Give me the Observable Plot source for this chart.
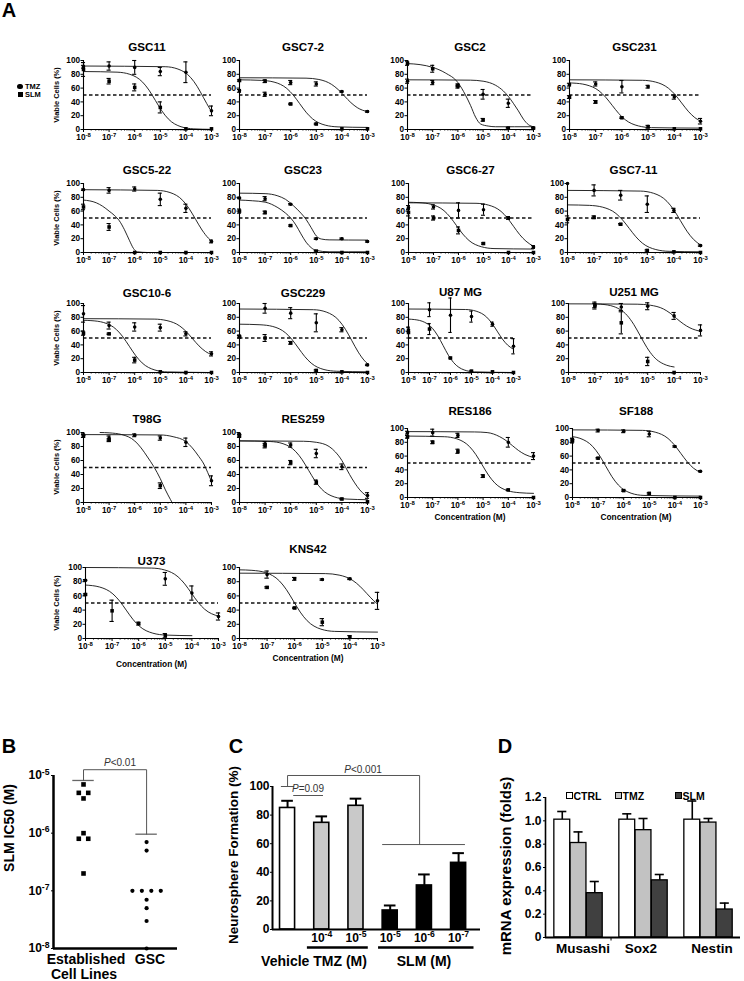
<!DOCTYPE html>
<html><head><meta charset="utf-8">
<script src="https://cdn.jsdelivr.net/npm/d3@7"></script>
<script src="https://cdn.jsdelivr.net/npm/@observablehq/plot@0.6"></script>
<style>
body{margin:0;background:#fff;}
#fig{position:relative;width:744px;height:981px;overflow:hidden;font-family:"Liberation Sans",Arial,sans-serif;color:#000;background:#fff;}
.t{position:absolute;white-space:nowrap;transform:translate(-50%,-50%);font-weight:bold;line-height:1;}
.t.r{transform:translate(-50%,-50%) rotate(-90deg);}
.t.s{transform:translate(0,-50%);}
#fig svg{position:absolute;overflow:visible;background:none;}
</style></head><body><div id="fig"></div>
<script>
// ---------------- DATA ----------------
// Panel A: dose exponents (log10 M) and tick labels
const doseExp = [-8, -7, -6, -5, -4, -3];
const doseTickLabels = ["10^-8", "10^-7", "10^-6", "10^-5", "10^-4", "10^-3"];
const panelNames = ["GSC11","GSC7-2","GSC2","GSC231","GSC5-22","GSC23","GSC6-27","GSC7-11",
  "GSC10-6","GSC229","U87 MG","U251 MG","T98G","RES259","RES186","SF188","U373","KNS42"];
const tmzMean = [
 [91,92,90,84,83,27],[56,51,68,66,55,26],[70,68,62,51,38,2],[65,66,62,62,47,12],
 [91,90,92,77,64,16],[79,78,70,20,20,16],[65,66,61,62,50,8],[100,90,83,70,61,10],
 [85,68,66,65,56,27],[52,93,86,72,62,11],[62,91,83,81,70,38],[null,97,95,96,82,61],
 [96,92,96,92,86,31],[97,84,82,70,51,10],[94,94,90,null,80,60],[84,97,96,92,74,38],
 [82,null,null,84,64,31],[null,90,84,83,84,53]];
const tmzErr = [
 [2,6,10,6,15,7],[2,3,3,3,1,1],[3,3,2,7,6,1],[2,3,9,2,3,4],
 [1,4,3,9,6,2],[1,3,1,1,1,1],[3,3,11,8,2,2],[0,8,7,12,3,1],
 [12,5,6,5,3,3],[2,7,8,13,3,1],[3,10,25,8,3,11],[0,5,5,5,5,8],
 [3,3,2,3,6,7],[2,3,3,6,4,4],[2,5,3,0,7,5],[2,2,2,4,1,1],
 [1,0,0,9,10,5],[0,5,2,1,1,12]];
const slmMean = [
 [87,70,61,32,1,1],[71,70,37,8,1,1],[96,88,64,14,2,2],[47,40,17,4,1,1],
 [66,37,0,0,0,0],[60,58,39,2,0,0],[58,50,32,13,0,0],[48,51,41,3,1,0],
 [57,56,18,1,0,0],[52,50,43,3,1,0],[58,63,21,2,1,0],[null,97,72,16,0,null],
 [95,89,null,24,null,null],[95,81,57,29,5,1],[88,80,67,31,11,0],[82,57,10,6,0,0],
 [62,39,21,4,null,null],[null,72,43,23,2,null]];
const slmErr = [
 [10,4,5,8,0,0],[1,2,1,1,0,0],[3,5,2,2,1,0],[2,2,1,2,0,0],
 [4,5,0,0,0,0],[3,2,1,1,0,0],[5,3,5,1,0,0],[5,2,1,1,0,0],
 [3,1,4,0,0,0],[2,5,2,1,0,0],[8,8,1,1,0,0],[0,3,16,6,0,0],
 [2,2,0,4,0,0],[2,3,3,3,1,0],[2,2,3,2,1,0],[3,1,1,1,0,0],
 [1,15,2,3,0,0],[0,1,1,5,2,0]];
// fitted curves: [log10 dose, viable %]
const tmzCurves = [
 [[-8,92],[-4.81,91],[-4.31,87.6],[-3.81,75.2],[-3.56,62.5],[-3.31,46],[-3.06,29.5],[-3,26]],
 [[-8,75],[-5.4,74.4],[-4.9,72.5],[-4.4,65.3],[-4.15,58],[-3.9,48.5],[-3.65,39],[-3.4,31.7],[-3,25.7]],
 [[-8,72],[-5.5,71.5],[-5,70],[-4.5,64],[-4.2,56],[-4,48],[-3.8,38],[-3.6,27],[-3.4,15],[-3.2,7],[-3,4]],
 [[-8,72],[-5.22,71.3],[-4.72,68.8],[-4.22,59.7],[-3.97,50.5],[-3.72,38.5],[-3.47,26.5],[-3.22,17.3],[-3,12]],
 [[-8,91],[-5.12,90],[-4.62,86.9],[-4.12,75.3],[-3.87,63.4],[-3.62,48],[-3.37,32.6],[-3.12,20.7],[-3,16.6]],
 [[-8,86],[-7,85.3],[-6.5,82],[-6.2,77],[-5.9,68],[-5.6,57],[-5.4,48],[-5.2,36],[-5,24],[-4.8,19.5],[-4.5,18.3],[-3,18]],
 [[-8,72],[-5.3,71.3],[-4.8,68.7],[-4.3,59.6],[-4.05,50.2],[-3.8,38],[-3.55,25.8],[-3.3,16.4],[-3,9]],
 [[-8,90],[-5.26,89],[-4.76,85.8],[-4.26,74.1],[-4.01,62.1],[-3.76,46.5],[-3.51,30.9],[-3.26,18.9],[-3,11]],
 [[-8,78],[-5.24,77.4],[-4.74,75.2],[-4.24,67.4],[-3.99,59.4],[-3.74,49],[-3.49,38.6],[-3.24,30.6],[-3,25.7]],
 [[-8,92],[-5.11,91],[-4.61,87.6],[-4.11,75.2],[-3.86,62.5],[-3.61,46],[-3.36,29.5],[-3.11,16.8],[-3,12.8]],
 [[-8,92],[-5.28,91.3],[-4.78,88.9],[-4.28,80.3],[-4.03,71.5],[-3.78,60],[-3.53,48.5],[-3.28,39.7],[-3,33.7]],
 [[-8,99.5],[-5.4,99],[-4.9,97.5],[-4.4,92],[-4.15,86],[-3.9,78],[-3.65,70.5],[-3.4,64.7],[-3,59.6]],
 [[-8,97],[-5,96.5],[-4.5,94],[-4,87],[-3.75,78],[-3.5,66],[-3.3,55],[-3.15,43],[-3,30]],
 [[-8,88],[-5.5,87.5],[-5,86],[-4.5,80],[-4.25,72],[-4,60],[-3.85,50],[-3.7,40],[-3.5,28],[-3.3,18],[-3.1,11],[-3,9]],
 [[-8,95.5],[-5.34,95],[-4.84,94.1],[-4.34,88.1],[-4.09,82.5],[-3.84,75.3],[-3.59,68],[-3.34,62.4],[-3,58]],
 [[-8,98],[-5.27,97.3],[-4.77,94.7],[-4.27,85.6],[-4.02,76.2],[-3.77,64],[-3.52,51.8],[-3.27,42.4],[-3,36.2]],
 [[-8,100],[-5.52,99.2],[-5.02,96.5],[-4.52,86.8],[-4.27,76.9],[-4.02,64],[-3.77,51.1],[-3.52,41.2],[-3,31.3]],
 [[-8,92],[-4.89,91.4],[-4.39,89.3],[-3.89,81.6],[-3.64,73.7],[-3.39,63.5],[-3.14,53.3],[-3,48.5]]];
const slmCurves = [
 [[-8,84],[-6.69,83.1],[-6.19,80],[-5.69,68.6],[-5.44,57],[-5.19,42],[-4.94,27],[-4.69,15.4],[-4.19,4],[-3.69,0.9],[-3,0.2]],
 [[-8,72],[-7.15,71.2],[-6.65,68.7],[-6.15,59.4],[-5.9,49.9],[-5.65,37.5],[-5.4,25.1],[-5.15,15.6],[-4.65,6.3],[-4.15,3.8],[-3,3]],
 [[-8,95.5],[-7.5,94],[-7,90],[-6.5,82],[-6,68],[-5.7,50],[-5.5,35],[-5.3,18],[-5.1,8],[-4.8,5],[-4.5,4],[-3,4]],
 [[-8,67.5],[-7.87,67.3],[-7.37,64.8],[-6.87,55.9],[-6.62,46.8],[-6.37,35],[-6.12,23.2],[-5.87,14.1],[-5.37,5.2],[-4.87,2.7],[-3,2]],
 [[-8,76],[-7.5,72],[-7.25,67],[-7,60],[-6.8,54],[-6.6,46],[-6.4,33],[-6.2,17],[-6.05,6],[-5.9,1],[-5.5,0],[-3,0]],
 [[-8,76],[-7.5,75],[-7,73],[-6.5,65],[-6.2,57],[-6,50],[-5.8,40],[-5.6,27],[-5.4,15],[-5.2,7],[-5,3],[-4.5,1],[-3,1]],
 [[-8,72.8],[-7.58,72.3],[-7.08,69.7],[-6.58,60.6],[-6.33,51.2],[-6.08,39],[-5.83,26.8],[-5.58,17.4],[-5.08,8.3],[-4.58,5.7],[-3,5]],
 [[-8,69],[-7.18,68.3],[-6.68,65.7],[-6.18,56.6],[-5.93,47.2],[-5.68,35],[-5.43,22.8],[-5.18,13.4],[-4.68,4.3],[-4.18,1.7],[-3,1]],
 [[-8,75.6],[-7.71,75.2],[-7.21,72.4],[-6.71,62.1],[-6.46,51.6],[-6.21,38],[-5.96,24.4],[-5.71,13.9],[-5.21,3.6],[-4.71,0.8],[-3,0]],
 [[-8,70],[-7.2,69.2],[-6.7,66.7],[-6.2,57.4],[-5.95,47.9],[-5.7,35.5],[-5.45,23.1],[-5.2,13.6],[-4.7,4.3],[-4.2,1.8],[-3,1]],
 [[-8,77.4],[-7.85,77.1],[-7.35,74.3],[-6.85,63.7],[-6.6,53],[-6.35,39],[-6.1,25],[-5.85,14.3],[-5.35,3.7],[-4.85,0.9],[-3,0]],
 [[-7,99.4],[-6.78,99],[-6.28,95.5],[-5.78,82.8],[-5.53,69.8],[-5.28,53],[-5.03,36.2],[-4.78,23.2],[-4.28,10.5],[-4,8]],
 [[-7.35,100],[-7,99.5],[-6.5,97],[-6,88],[-5.75,78],[-5.5,65],[-5.25,51],[-5,34],[-4.8,18],[-4.6,4],[-4.54,0]],
 [[-8,88],[-6.8,87.1],[-6.3,84],[-5.8,72.6],[-5.55,61],[-5.3,46],[-5.05,31],[-4.8,19.4],[-4.3,8],[-3.8,4.9],[-3,4]],
 [[-8,89],[-6.54,88.1],[-6.04,85],[-5.54,73.8],[-5.29,62.4],[-5.04,47.5],[-4.79,32.6],[-4.54,21.2],[-4.04,10],[-3.54,6.9],[-3,6]],
 [[-8,88.2],[-7.71,85.8],[-7.21,73.9],[-6.96,61.8],[-6.71,46],[-6.46,30.2],[-6.21,18.1],[-5.71,6.2],[-5.21,3],[-3,2]],
 [[-8,75.3],[-7.47,72.5],[-6.97,62.8],[-6.72,52.9],[-6.47,40],[-6.22,27.1],[-5.97,17.2],[-5.47,7.5],[-4.97,4.8],[-4,4]],
 [[-8,96.7],[-7.55,96],[-7.05,92.8],[-6.55,80.9],[-6.3,68.8],[-6.05,53],[-5.8,37.2],[-5.55,25.1],[-5.05,13.2],[-4.55,10],[-3,9]]];
const viableTicks = [0, 20, 40, 60, 80, 100];

// Panel B
const bGroups = [["Established", "Cell Lines"], ["GSC"]];
const bEstablished = [7e-6, 5e-6, 5e-6, 4e-6, 1e-6, 8e-7, 8e-7, 2e-7];
const bGSC = [7e-7, 5e-7, 1e-7, 1e-7, 1e-7, 1e-7, 7e-8, 5e-8, 3e-8, 1e-8];
const bUpperBars = [8.2e-6, 9.6e-7];
const bTickValues = [1e-5, 1e-6, 1e-7, 1e-8];
const bTickLabels = ["10^-5", "10^-6", "10^-7", "10^-8"];

// Panel C
const cDoseLabels = ["", "10^-4", "10^-5", "10^-5", "10^-6", "10^-7"];
const cGroup = ["Vehicle", "TMZ", "TMZ", "SLM", "SLM", "SLM"];
const cValues = [85, 74.6, 86.5, 13.3, 30.8, 46.6];
const cErrors = [5, 4.5, 5, 3.5, 7.7, 6.8];
const cTicks = [0, 20, 40, 60, 80, 100];

// Panel D
const dGenes = ["Musashi", "Sox2", "Nestin"];
const dTreatments = ["CTRL", "TMZ", "SLM"];
const dCTRL = [1.01, 1.01, 1.01], dCTRLerr = [0.07, 0.05, 0.16];
const dTMZ = [0.81, 0.92, 0.985], dTMZerr = [0.095, 0.10, 0.035];
const dSLM = [0.38, 0.49, 0.24], dSLMerr = [0.10, 0.05, 0.055];
const dTicks = [0, 0.2, 0.4, 0.6, 0.8, 1.0, 1.2];

// ---------------- HELPERS ----------------
const fig = document.getElementById("fig");
function hasFont(name) {
  const c = document.createElement("canvas").getContext("2d");
  const s = "Concentration 10 GSC";
  c.font = "bold 40px monospace"; const a = c.measureText(s).width;
  c.font = `bold 40px "${name}", monospace`; const b = c.measureText(s).width;
  return Math.abs(a - b) > 0.5;
}
const NARROW = hasFont("Liberation Sans Narrow");
const famA = NARROW ? '"Liberation Sans Narrow","Liberation Sans",Arial,sans-serif' : '"Liberation Sans",Arial,sans-serif';
const kA = NARROW ? 1 : 0.83;
const famR = '"Liberation Sans",Arial,sans-serif';

function addText(html, x, y, size, o = {}) {
  const d = document.createElement("div");
  d.className = "t" + (o.rot ? " r" : "") + (o.start ? " s" : "");
  d.innerHTML = html;
  d.style.left = x + "px"; d.style.top = y + "px"; d.style.fontSize = size + "px";
  d.style.fontFamily = o.family || famR;
  if (o.weight) d.style.fontWeight = o.weight;
  if (o.color) d.style.color = o.color;
  fig.appendChild(d);
  return d;
}
function place(svg, left, top) {
  svg.style.position = "absolute"; svg.style.left = left + "px"; svg.style.top = top + "px";
  fig.appendChild(svg);
}
function supify(svg, size) {
  svg.querySelectorAll("text").forEach(t => {
    const m = t.textContent.match(/^(.*)\^(.+)$/);
    if (!m) return;
    t.textContent = m[1];
    const ts = document.createElementNS("http://www.w3.org/2000/svg", "tspan");
    ts.setAttribute("dy", (-0.4 * size).toFixed(2));
    ts.setAttribute("font-size", (0.72 * size).toFixed(2));
    ts.textContent = m[2];
    t.appendChild(ts);
  });
}

// ---------------- PANEL A ----------------
// layout: [left, right, top(100%), bottom(0%), titleY]
const aLayout = [
 [83,211,60,129,47],[239,367,60,129,47],[407,533,60,129,47],[569,700,60,129,47],
 [83,211,183,252,170],[239,367,183,252,170],[408,533,183,252,170],[567,700,183,252,170],
 [83,211,303,372,293],[239,367,303,372,293],[408,513,303,372,292],[568,700,303,372,292],
 [83,211,432,502,419],[239,367,432,502,419],[407,533,428,497,411],[572,700,428,497,411],
 [85,218,567,638,561],[239,377,567,638,549]];
const concLabelY = {14: 517, 15: 517, 16: 664, 17: 658};
const minorTicks = [];
for (let e = -8; e < -3; e++) for (let m = 2; m <= 9; m++) minorTicks.push(e + Math.log10(m));

const fsTick = NARROW ? 9.5 : 8.2;
panelNames.forEach((name, i) => {
  const [L, R, T, B, TY] = aLayout[i];
  const mL = 24, mR = 8, mT = 4, mB = 16;
  const pts = (means, errs) => doseExp.map((x, j) => ({x, y: means[j], e: errs[j]})).filter(d => d.y != null);
  const tm = pts(tmzMean[i], tmzErr[i]);
  const sl = pts(slmMean[i], slmErr[i]);
  const eb = tm.concat(sl).filter(d => d.e > 0);
  const cT = tmzCurves[i].map(([x, y]) => ({x, y}));
  const cS = slmCurves[i].map(([x, y]) => ({x, y}));
  const svg = Plot.plot({
    width: R - L + mL + mR, height: B - T + mT + mB,
    marginLeft: mL, marginRight: mR, marginTop: mT, marginBottom: mB,
    style: {fontFamily: famA, fontSize: fsTick + "px", fontWeight: "bold", color: "#000", background: "none", overflow: "visible"},
    x: {domain: [-8, -3], ticks: doseExp, tickFormat: d => doseTickLabels[doseExp.indexOf(d)], tickSize: 3, tickPadding: 1.5, label: null},
    y: {domain: [0, 100], ticks: viableTicks, tickSize: 2.5, tickPadding: 1, label: null},
    marks: [
      Plot.ruleY([50], {stroke: "#111", strokeWidth: 1.3, strokeDasharray: "3.5,2.5"}),
      Plot.line(cT, {x: "x", y: "y", curve: "monotone-x", stroke: "#111", strokeWidth: 0.9}),
      Plot.line(cS, {x: "x", y: "y", curve: "monotone-x", stroke: "#111", strokeWidth: 0.9}),
      Plot.ruleX(eb, {x: "x", y1: d => d.y - d.e, y2: d => d.y + d.e, stroke: "#000", strokeWidth: 1.1}),
      Plot.ruleY(eb, {y: d => d.y + d.e, x1: d => d.x - 0.08, x2: d => d.x + 0.08, stroke: "#000", strokeWidth: 1.1}),
      Plot.ruleY(eb, {y: d => d.y - d.e, x1: d => d.x - 0.08, x2: d => d.x + 0.08, stroke: "#000", strokeWidth: 1.1}),
      Plot.dot(tm, {x: "x", y: "y", r: 1.8, fill: "#000", stroke: "none", symbol: "circle"}),
      Plot.dot(sl, {x: "x", y: "y", r: 2, fill: "#000", stroke: "none", symbol: "square"}),
      Plot.ruleX(minorTicks, {y1: 0, y2: -2.6, stroke: "#000", strokeWidth: 0.6}),
      Plot.ruleX([-8], {stroke: "#000", strokeWidth: 1.1}),
      Plot.ruleY([0], {stroke: "#000", strokeWidth: 1.1})
    ]
  });
  supify(svg, fsTick);
  place(svg, L - mL, T - mT);
  addText(name, (L + R) / 2, TY, 14 * kA, {family: famA});
  if (i % 4 === 0) addText("Viable Cells (%)", 57, (T + B) / 2, 9 * kA, {family: famA, rot: true});
  if (concLabelY[i]) addText("Concentration (M)", (L + R) / 2, concLabelY[i], 10 * kA, {family: famA});
});
// legend of panel A
(function () {
  const c = document.createElement("div");
  c.style.cssText = "position:absolute;left:17px;top:83.5px;width:5.5px;height:5.5px;border-radius:50%;background:#000";
  fig.appendChild(c);
  const s = document.createElement("div");
  s.style.cssText = "position:absolute;left:17.5px;top:92px;width:5px;height:5px;background:#000";
  fig.appendChild(s);
  addText("TMZ", 25, 86.5, 9 * kA, {family: famA, start: true});
  addText("SLM", 25, 94.8, 9 * kA, {family: famA, start: true});
})();
addText("A", 9, 10, 20);

// ---------------- PANEL B ----------------
(function () {
  const L = 53, R = 177, T = 775, B = 948;
  const mL = 45, mR = 5, mT = 40, mB = 6;
  const x0 = -0.476, x1 = 1.49;
  function spread(vals, g) {
    const cnt = {}, idx = {};
    vals.forEach(v => cnt[v] = (cnt[v] || 0) + 1);
    return vals.map(v => { idx[v] = (idx[v] ?? -1) + 1; return {g, v, x: g + (idx[v] - (cnt[v] - 1) / 2) * 0.15}; });
  }
  const est = spread(bEstablished, 0), gsc = spread(bGSC, 1);
  const top = 1.26e-5;
  const svg = Plot.plot({
    width: R - L + mL + mR, height: B - T + mT + mB,
    marginLeft: mL, marginRight: mR, marginTop: mT, marginBottom: mB,
    style: {fontFamily: famR, fontSize: "12px", fontWeight: "bold", background: "none", overflow: "visible"},
    x: {domain: [x0, x1], axis: null},
    y: {type: "log", domain: [1e-8, 1e-5], ticks: bTickValues,
        tickFormat: d => bTickLabels[bTickValues.findIndex(t => Math.abs(Math.log10(t / d)) < 0.01)],
        tickSize: 2, tickPadding: 2, label: null},
    marks: [
      Plot.ruleY(bUpperBars.map((v, g) => ({g, v})), {y: "v", x1: d => d.g - 0.17, x2: d => d.g + 0.17, stroke: "#666", strokeWidth: 1.3}),
      Plot.line([{x: 0, y: bUpperBars[0]}, {x: 0, y: top}, {x: 1, y: top}, {x: 1, y: bUpperBars[1]}], {x: "x", y: "y", stroke: "#555", strokeWidth: 1}),
      Plot.dot(est, {x: "x", y: "v", symbol: "square", r: 2.6, fill: "#000", stroke: "none"}),
      Plot.dot(gsc, {x: "x", y: "v", symbol: "circle", r: 2.1, fill: "#000", stroke: "none"}),
      Plot.ruleX([x0], {stroke: "#000", strokeWidth: 2.5}),
      Plot.ruleY([1e-8], {stroke: "#000", strokeWidth: 2.5})
    ]
  });
  supify(svg, 12);
  place(svg, L - mL, T - mT);
  addText("<i>P</i>&lt;0.01", 120, 763, 10, {weight: "normal", color: "#333"});
  addText(bGroups[0][0], 86, 959.3, 14);
  addText(bGroups[0][1], 84, 974, 14);
  addText(bGroups[1][0], 150, 959.3, 14);
  addText("SLM IC50 (M)", 9, 828, 14, {rot: true});
  addText("B", 9, 746, 20);
})();

// ---------------- PANEL C ----------------
(function () {
  const L = 272, R = 480, T = 786, B = 929;
  const mL = 32, mR = 4, mT = 25, mB = 24;
  const x0 = -0.44, x1 = 5.64;
  const data = cValues.map((v, i) => ({i, v, e: cErrors[i], g: cGroup[i]}));
  const fills = {Vehicle: "#ffffff", TMZ: "#c9c9c9", SLM: "#000000"};
  const spans = [{a: 1 - 0.42, b: 2 + 0.36}, {a: 3 - 0.34, b: 5 + 0.45}];
  const svg = Plot.plot({
    width: R - L + mL + mR, height: B - T + mT + mB,
    marginLeft: mL, marginRight: mR, marginTop: mT, marginBottom: mB,
    style: {fontFamily: famR, fontSize: "12px", fontWeight: "bold", background: "none", overflow: "visible"},
    x: {domain: [x0, x1], ticks: [1, 2, 3, 4, 5], tickFormat: i => cDoseLabels[i], tickSize: 0, tickPadding: 4, label: null},
    y: {domain: [0, 100], ticks: cTicks, tickSize: 2, tickPadding: 1, label: null},
    marks: [
      Plot.line([{x: 0, y: 100}, {x: 0, y: 107.7}, {x: 3.86, y: 107.7}, {x: 3.86, y: 59.4}], {x: "x", y: "y", stroke: "#555", strokeWidth: 1}),
      Plot.ruleY([100], {x1: -0.18, x2: 0.2, stroke: "#555", strokeWidth: 1}),
      Plot.ruleY([59.4], {x1: 2.78, x2: 5.2, stroke: "#555", strokeWidth: 1}),
      Plot.ruleY([93.7], {x1: 0.18, x2: 1.05, stroke: "#555", strokeWidth: 1}),
      Plot.ruleX(data, {x: "i", y1: "v", y2: d => d.v + d.e, stroke: "#000", strokeWidth: 2}),
      Plot.ruleY(data, {y: d => d.v + d.e, x1: d => d.i - 0.17, x2: d => d.i + 0.17, stroke: "#000", strokeWidth: 2}),
      Plot.rect(data, {x1: d => d.i - 0.22, x2: d => d.i + 0.22, y1: 0, y2: "v", fill: d => fills[d.g], stroke: "#000", strokeWidth: 1.6}),
      Plot.ruleY(spans, {y: -12.6, x1: "a", x2: "b", stroke: "#000", strokeWidth: 2.6}),
      Plot.ruleX([x0], {stroke: "#000", strokeWidth: 2}),
      Plot.ruleY([0], {stroke: "#000", strokeWidth: 2.2})
    ]
  });
  supify(svg, 12);
  place(svg, L - mL, T - mT);
  addText("<i>P</i>&lt;0.001", 363, 770, 10, {weight: "normal", color: "#333"});
  addText("<i>P</i>=0.09", 308, 789, 10, {weight: "normal", color: "#333"});
  addText("Vehicle TMZ (M)", 314, 961, 14);
  addText("SLM (M)", 424, 961, 14);
  addText("Neurosphere Formation (%)", 234, 855, 13.5, {rot: true});
  addText("C", 236, 746, 20);
})();

// ---------------- PANEL D ----------------
(function () {
  const L = 545, R = 740, T = 797, B = 937;
  const mL = 35, mR = 3, mT = 10, mB = 6;
  const x0 = -0.508, x1 = 2.492;
  const series = [[dCTRL, dCTRLerr], [dTMZ, dTMZerr], [dSLM, dSLMerr]];
  const fills = {CTRL: "#ffffff", TMZ: "#c2c2c2", SLM: "#404040"};
  const data = [];
  dGenes.forEach((gName, g) => dTreatments.forEach((t, k) => data.push({g, k, t, x: g + (k - 1) * 0.25, v: series[k][0][g], e: series[k][1][g]})));
  const svg = Plot.plot({
    width: R - L + mL + mR, height: B - T + mT + mB,
    marginLeft: mL, marginRight: mR, marginTop: mT, marginBottom: mB,
    style: {fontFamily: famR, fontSize: "12px", fontWeight: "bold", background: "none", overflow: "visible"},
    x: {domain: [x0, x1], axis: null},
    y: {domain: [0, 1.2], ticks: dTicks, tickFormat: d => d === 0 ? "0" : d.toFixed(1), tickSize: 2, tickPadding: 2, label: null},
    marks: [
      Plot.ruleX(data, {x: "x", y1: "v", y2: d => d.v + d.e, stroke: "#000", strokeWidth: 1.6}),
      Plot.ruleY(data, {y: d => d.v + d.e, x1: d => d.x - 0.07, x2: d => d.x + 0.07, stroke: "#000", strokeWidth: 1.6}),
      Plot.rect(data, {x1: d => d.x - 0.122, x2: d => d.x + 0.122, y1: 0, y2: "v", fill: d => fills[d.t], stroke: "#000", strokeWidth: 1.3}),
      Plot.ruleX([0.5], {y1: 0, y2: -0.03, stroke: "#000", strokeWidth: 1}),
      Plot.ruleX([x0], {stroke: "#000", strokeWidth: 1.6}),
      Plot.ruleY([0], {stroke: "#000", strokeWidth: 2})
    ]
  });
  place(svg, L - mL, T - mT);
  // legend
  const lx = [569, 618, 678];
  dTreatments.forEach((t, k) => {
    const s = document.createElement("div");
    s.style.cssText = `position:absolute;left:${lx[k] - 3}px;top:${795 - 3}px;width:5px;height:5px;border:1px solid #000;background:${fills[t]}`;
    fig.appendChild(s);
    addText(t, lx[k] + 4.5, 795.5, 10.5, {start: true});
  });
  const gx = [583, 641, 712];
  dGenes.forEach((gName, g) => addText(gName, gx[g], 949, 13.5));
  addText("mRNA expression (folds)", 505, 866, 15, {rot: true});
  addText("D", 505, 746, 20);
})();
</script></body></html>
